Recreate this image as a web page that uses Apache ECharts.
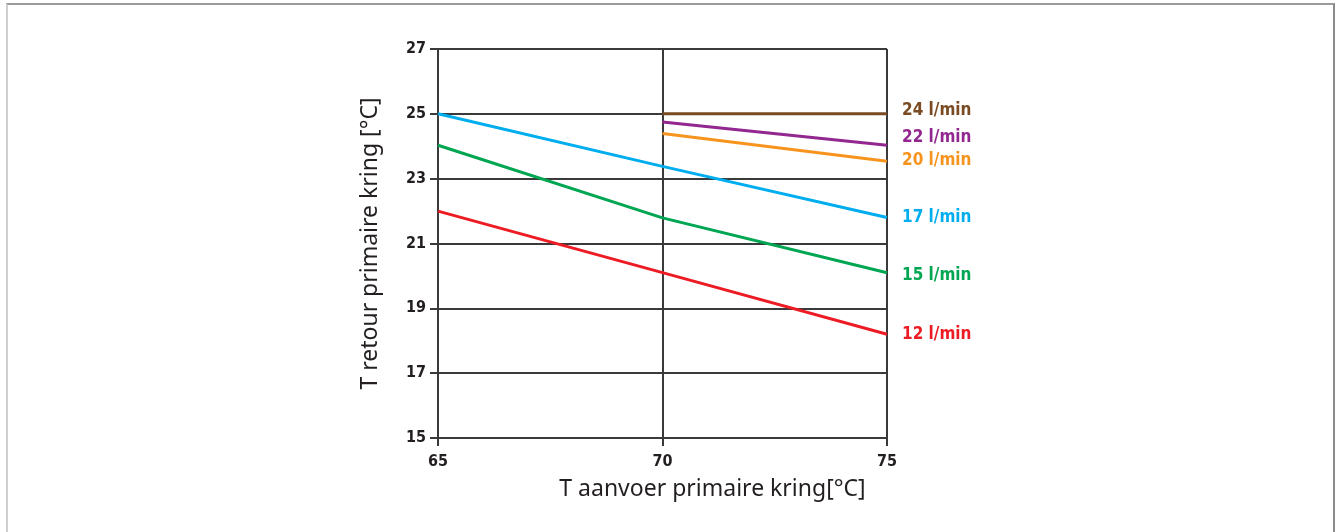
<!DOCTYPE html>
<html>
<head>
<meta charset="utf-8">
<script src="https://cdn.jsdelivr.net/npm/echarts@6/dist/echarts.min.js"></script>
<style>
  html, body { margin: 0; padding: 0; background: #fff; }
  #frame { position: absolute; left: 6px; top: 3px; width: 1329px; height: 560px;
           border-top: 2px solid #9a9a9a; border-left: 2px solid #cfcfcf; border-right: 2px solid #8a8a8a; box-sizing: border-box; }
  #chart { position: absolute; left: 0; top: 0; width: 1338px; height: 532px; }
</style>
</head>
<body>
<div id="frame"></div>
<div id="chart"></div>
<script>
// Categories / x values
const xFull = [65, 70, 75];
const xHalf = [70, 75];
const xTicks = [65, 70, 75];
const yTicks = [15, 17, 19, 21, 23, 25, 27];

// Series values (T retour, °C)
const names = ['24 l/min', '22 l/min', '20 l/min', '17 l/min', '15 l/min', '12 l/min'];
const flow24 = [25.0, 25.0];
const flow22 = [24.75, 24.03];
const flow20 = [24.39, 23.54];
const flow17 = [25.0, 23.38, 21.8];
const flow15 = [24.03, 21.79, 20.1];
const flow12 = [22.0, 20.1, 18.2];

const colors = ['#7A4B22', '#92278F', '#F7941D', '#00AEEF', '#00A651', '#ED1C24'];
const labelOffsets = [[0, -3], [0, -8], [0, -1], [0, 0], [0, 3], [0, 0]];

function pairs(xs, ys) { return xs.map((x, i) => [x, ys[i]]); }
const seriesData = [
  pairs(xHalf, flow24), pairs(xHalf, flow22), pairs(xHalf, flow20),
  pairs(xFull, flow17), pairs(xFull, flow15), pairs(xFull, flow12)
];

const tickFont = { fontFamily: 'DejaVu Sans Condensed', fontWeight: 'bold', fontSize: 16, color: '#231F20' };

const chart = echarts.init(document.getElementById('chart'), null, { renderer: 'canvas' });
chart.setOption({
  backgroundColor: 'transparent',
  animation: false,
  grid: { left: 438, right: 451, top: 49, bottom: 94, containLabel: false },
  xAxis: {
    type: 'value', min: xTicks[0], max: xTicks[xTicks.length - 1], interval: 5,
    name: 'T aanvoer primaire kring[°C]', nameLocation: 'middle', nameGap: 40,
    nameTextStyle: { fontFamily: 'Noto Sans', fontSize: 23, color: '#231F20', padding: [0, 0, 0, 100] },
    axisLine: { show: true, lineStyle: { color: '#3a3a3a', width: 2 } },
    axisTick: { show: true, length: 8, lineStyle: { color: '#3a3a3a', width: 2 } },
    axisLabel: Object.assign({ margin: 16 }, tickFont),
    splitLine: { show: true, lineStyle: { color: '#3a3a3a', width: 2 } }
  },
  yAxis: {
    type: 'value', min: yTicks[0], max: yTicks[yTicks.length - 1], interval: 2,
    name: 'T retour primaire kring [°C]', nameLocation: 'middle', nameGap: 56,
    nameTextStyle: { fontFamily: 'Noto Sans', fontSize: 23, color: '#231F20' },
    axisLine: { show: true, lineStyle: { color: '#3a3a3a', width: 2 } },
    axisTick: { show: true, length: 8, lineStyle: { color: '#3a3a3a', width: 2 } },
    axisLabel: Object.assign({ margin: 12 }, tickFont),
    splitLine: { show: true, lineStyle: { color: '#3a3a3a', width: 2 } }
  },
  series: names.map((n, i) => ({
    name: n, type: 'line', data: seriesData[i], symbol: 'none',
    lineStyle: { color: colors[i], width: 3 },
    endLabel: {
      show: true, formatter: n, distance: 15, offset: labelOffsets[i],
      color: colors[i], fontFamily: 'DejaVu Sans Condensed', fontWeight: 'bold', fontSize: 17
    }
  }))
});
</script>
</body>
</html>
